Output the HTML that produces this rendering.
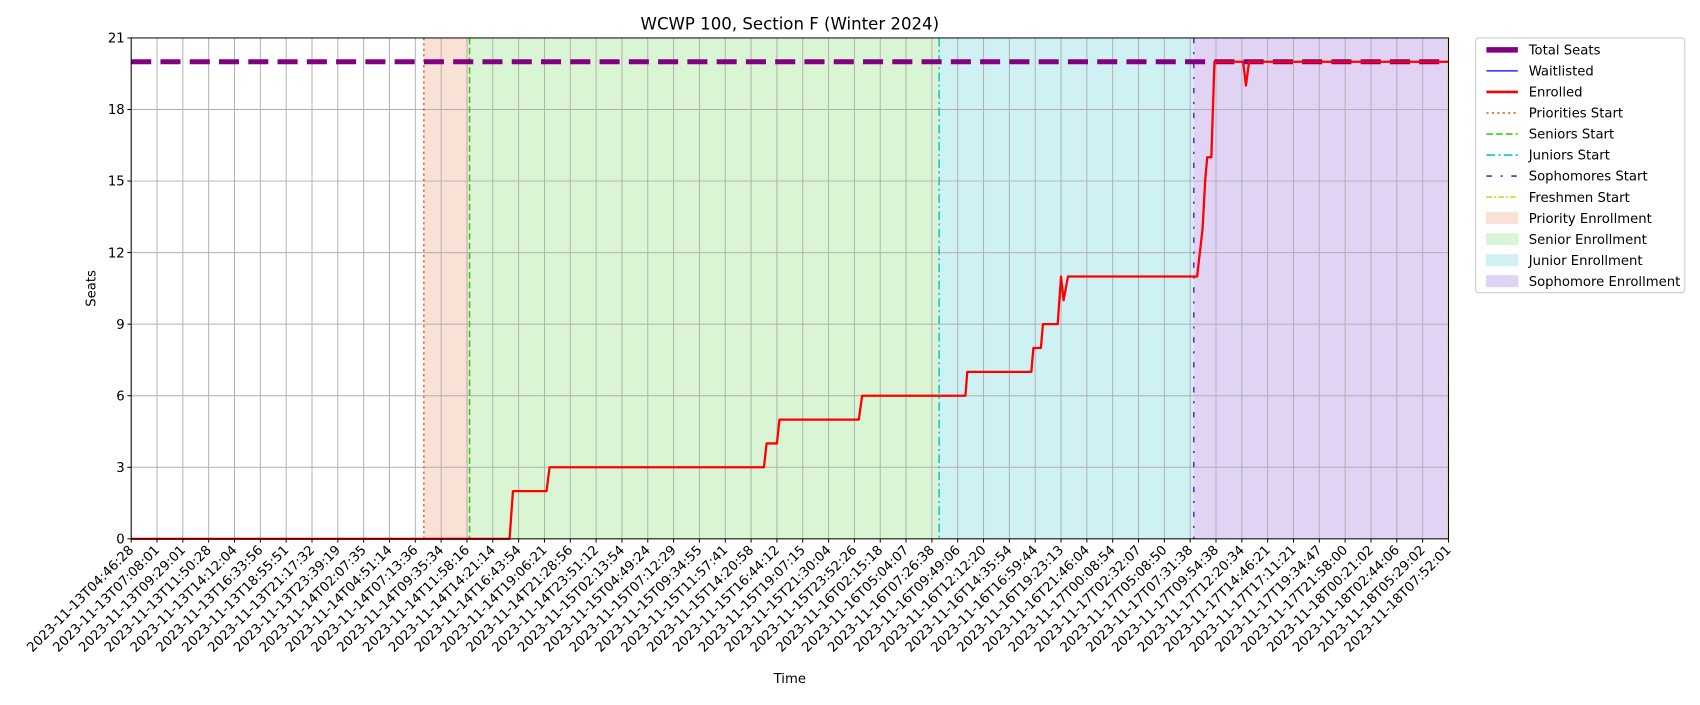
<!DOCTYPE html>
<html><head><meta charset="utf-8"><style>
body{margin:0;background:#fff;width:1700px;height:700px;overflow:hidden}
svg text{font-family:"DejaVu Sans","Liberation Sans",sans-serif;fill:#000}
</style></head><body>
<svg id="chart" width="1700" height="700" xmlns="http://www.w3.org/2000/svg"><g id="root" transform="scale(1.08418)"></g></svg>
<script>
const tickLabels=["2023-11-13T04:46:28","2023-11-13T07:08:01","2023-11-13T09:29:01","2023-11-13T11:50:28","2023-11-13T14:12:04","2023-11-13T16:33:56","2023-11-13T18:55:51","2023-11-13T21:17:32","2023-11-13T23:39:19","2023-11-14T02:07:35","2023-11-14T04:51:14","2023-11-14T07:13:36","2023-11-14T09:35:34","2023-11-14T11:58:16","2023-11-14T14:21:14","2023-11-14T16:43:54","2023-11-14T19:06:21","2023-11-14T21:28:56","2023-11-14T23:51:12","2023-11-15T02:13:54","2023-11-15T04:49:24","2023-11-15T07:12:29","2023-11-15T09:34:55","2023-11-15T11:57:41","2023-11-15T14:20:58","2023-11-15T16:44:12","2023-11-15T19:07:15","2023-11-15T21:30:04","2023-11-15T23:52:26","2023-11-16T02:15:18","2023-11-16T05:04:07","2023-11-16T07:26:38","2023-11-16T09:49:06","2023-11-16T12:12:20","2023-11-16T14:35:54","2023-11-16T16:59:44","2023-11-16T19:23:13","2023-11-16T21:46:04","2023-11-17T00:08:54","2023-11-17T02:32:07","2023-11-17T05:08:50","2023-11-17T07:31:38","2023-11-17T09:54:38","2023-11-17T12:20:34","2023-11-17T14:46:21","2023-11-17T17:11:21","2023-11-17T19:34:47","2023-11-17T21:58:00","2023-11-18T00:21:02","2023-11-18T02:44:06","2023-11-18T05:29:02","2023-11-18T07:52:01"];
const yTicks=[0,3,6,9,12,15,18,21];
const totalSeats=20;
const enrolledX=[0,14.65,14.78,16.08,16.2,24.5,24.6,25.0,25.1,28.17,28.3,32.3,32.37,34.85,34.93,35.22,35.3,35.87,36.0,36.1,36.27,41.27,41.48,41.58,41.66,41.78,41.82,41.94,43.05,43.16,43.28,51];
const enrolledY=[0,0,2,2,3,3,4,4,5,5,6,6,7,7,8,8,9,9,11,10,11,11,13,15,16,16,16,20,20,19,20,20];
const phaseStarts=[11.33,13.1,31.28,41.14,51];
const phaseEnds=[13.1,31.28,41.14,51,51];
const phaseFill=["#f9e1d6","#daf5d3","#cff1f3","#e0d3f4",null];
const phaseLine=["#e0622a","#33cc11","#11c4cc","#6622cc","#d4d422"];
const phaseDash=["2,3","6,3","8,3,2,3","5,8,2,8","5,2,2,2"];

const L=121,R=1336,T=35,B=497;
const xs=i=>L+(R-L)*i/(tickLabels.length-1);
const ys=v=>B-(B-T)*v/21;
const svg=document.getElementById('root');
const NS="http://www.w3.org/2000/svg";
function mk(tag,attrs,parent){const e=document.createElementNS(NS,tag);for(const k in attrs)e.setAttribute(k,attrs[k]);(parent||svg).appendChild(e);return e;}

for(let i=0;i<phaseStarts.length;i++){ if(!phaseFill[i])continue;
 const r=mk('rect',{x:xs(phaseStarts[i]),y:T,width:xs(phaseEnds[i])-xs(phaseStarts[i]),height:B-T,fill:phaseFill[i]});
 
 }
tickLabels.forEach((t,i)=>{const g=mk('line',{x1:xs(i),x2:xs(i),y1:T,y2:B,stroke:'#b0b0b0','stroke-width':0.9});
 
 });
yTicks.forEach(v=>{const g=mk('line',{x1:L,x2:R,y1:ys(v),y2:ys(v),stroke:'#b0b0b0','stroke-width':0.9});
 
 });
for(let i=0;i<phaseStarts.length;i++){const l=mk('line',{x1:xs(phaseStarts[i]),x2:xs(phaseStarts[i]),y1:T,y2:B,stroke:phaseLine[i],'stroke-width':1.4,'stroke-dasharray':phaseDash[i]});
 
 }
const ts=mk('line',{x1:L,x2:R,y1:ys(totalSeats),y2:ys(totalSeats),stroke:'#800080','stroke-width':4.6,'stroke-dasharray':'18.5,8.5'});


const pts=enrolledX.map((x,i)=>xs(x)+','+ys(enrolledY[i])).join(' ');
const en=mk('polyline',{points:pts,fill:'none',stroke:'#ff0000','stroke-width':2.1,'stroke-linejoin':'round'});


const fr=mk('rect',{x:L,y:T,width:R-L,height:B-T,fill:'none',stroke:'#000','stroke-width':0.9});


tickLabels.forEach((t,i)=>{mk('line',{x1:xs(i),x2:xs(i),y1:B,y2:B+3.5,stroke:'#000','stroke-width':0.9});
 const tx=mk('text',{x:xs(i)+3,y:B+11,'font-size':12.2,'text-anchor':'end',transform:`rotate(-45 ${xs(i)+3} ${B+11})`});
 tx.textContent=t;
 
 });
yTicks.forEach(v=>{mk('line',{x1:L-3.5,x2:L,y1:ys(v),y2:ys(v),stroke:'#000','stroke-width':0.9});
 const tx=mk('text',{x:L-6,y:ys(v)+4.3,'font-size':12.2,'text-anchor':'end'});
 tx.textContent=v;
 
 });
let e=mk('text',{x:(L+R)/2,y:27,'font-size':15.3,'text-anchor':'middle'});e.textContent='WCWP 100, Section F (Winter 2024)';


e=mk('text',{x:(L+R)/2,y:630,'font-size':12.2,'text-anchor':'middle'});e.textContent='Time';


e=mk('text',{x:88,y:(T+B)/2,'font-size':12.2,'text-anchor':'middle',transform:`rotate(-90 88 ${(T+B)/2})`});e.textContent='Seats';


const lg=mk('g',{});


mk('rect',{x:1361,y:35,width:193,height:235,rx:3,fill:'#fff',stroke:'#ccc'},lg);
const items=[
 ['Total Seats','line','#800080',5,'none'],['Waitlisted','line','#0000ff',1.2,'none'],['Enrolled','line','#ff0000',2.5,'none'],
 ['Priorities Start','line',phaseLine[0],1.5,phaseDash[0]],['Seniors Start','line',phaseLine[1],1.5,phaseDash[1]],
 ['Juniors Start','line',phaseLine[2],1.5,phaseDash[2]],['Sophomores Start','line',phaseLine[3],1.5,phaseDash[3]],
 ['Freshmen Start','line',phaseLine[4],1.5,phaseDash[4]],
 ['Priority Enrollment','box',phaseFill[0]],['Senior Enrollment','box',phaseFill[1]],['Junior Enrollment','box',phaseFill[2]],['Sophomore Enrollment','box',phaseFill[3]]];
items.forEach((it,i)=>{const y=46+i*19.4;
 if(it[1]==='line') mk('line',{x1:1371,x2:1400,y1:y,y2:y,stroke:it[2],'stroke-width':it[3],'stroke-dasharray':it[4]},lg);
 else mk('rect',{x:1371,y:y-5,width:29,height:10,fill:it[2],stroke:it[2]},lg);
 const t=mk('text',{x:1410,y:y+4.3,'font-size':12.2},lg);t.textContent=it[0];
 
 });
</script>
</body></html>
